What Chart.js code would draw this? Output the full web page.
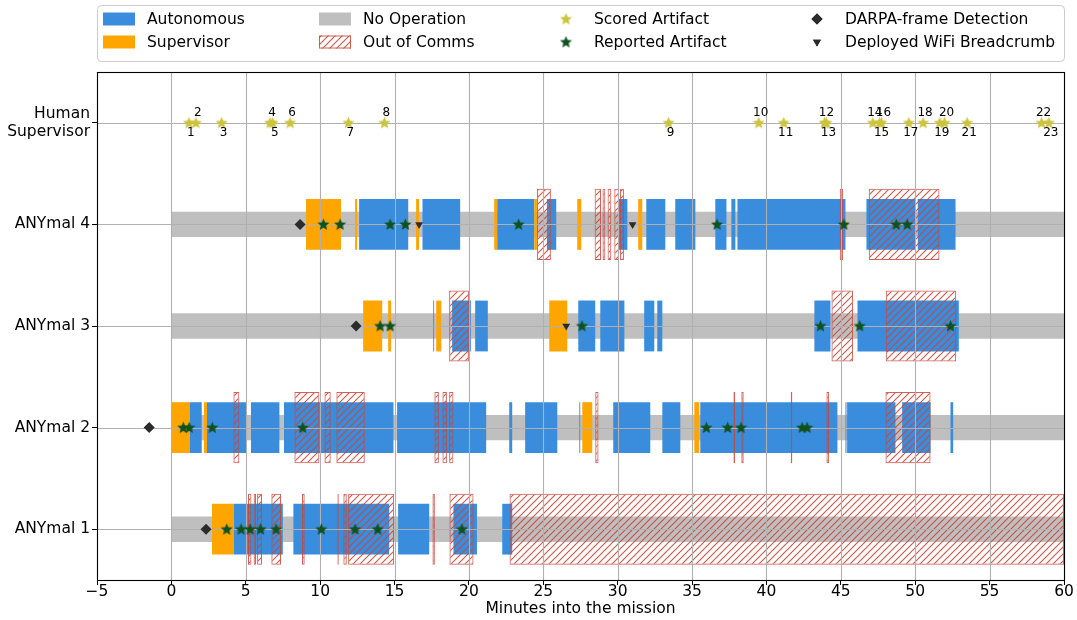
<!DOCTYPE html>
<html><head><meta charset="utf-8">
<script src="https://cdn.jsdelivr.net/npm/chart.js@4/dist/chart.umd.min.js"></script>
<style>html,body{margin:0;padding:0;background:#fff}#wrap{width:1077px;height:620px}</style>
</head><body><div id="wrap"><canvas id="c" width="1077" height="620"></canvas></div>
<script>
// ---------- DATA ----------
const categories = ['Human Supervisor', 'ANYmal 4', 'ANYmal 3', 'ANYmal 2', 'ANYmal 1'];
const robots = ['ANYmal 4', 'ANYmal 3', 'ANYmal 2', 'ANYmal 1'];
const xTicks = [-5, 0, 5, 10, 15, 20, 25, 30, 35, 40, 45, 50, 55, 60];
const noOperation = [0, 60];

const autoA4 = [[12.62,15.92],[16.88,19.41],[21.90,24.39],[25.24,25.87],[30.02,30.65],[31.92,33.20],[33.87,35.22],[36.56,37.31],[37.64,37.91],[38.05,45.31],[46.72,50.00],[50.17,52.71]];
const supA4 = [[9.05,11.40],[12.35,12.48],[16.45,16.65],[21.70,21.90],[24.39,24.57],[27.28,27.55],[31.38,31.65]];
const commsA4 = [[24.57,25.51],[28.45,28.88],[28.98,29.17],[29.32,29.57],[29.77,30.10],[30.15,30.42],[44.93,45.15],[46.88,51.63]];
const repA4 = [10.22,11.34,14.70,15.73,23.34,36.68,45.20,48.72,49.46];
const detA4 = [8.65];
const crumbA4 = [16.65,31.00];

const autoA3 = [[17.60,17.66],[18.87,20.13],[20.42,21.27],[27.35,28.49],[28.83,30.45],[31.78,32.46],[32.66,33.00],[43.22,44.30],[46.12,52.93]];
const supA3 = [[12.89,14.17],[14.57,14.77],[17.80,18.14],[25.40,26.61]];
const commsA3 = [[18.67,20.00],[44.37,45.82],[48.02,52.75]];
const repA3 = [14.03,14.70,27.60,43.63,46.27,52.37];
const detA3 = [12.42];
const crumbA3 = [26.54];

const autoA2 = [[1.25,2.04],[2.39,5.06],[5.35,7.26],[7.57,14.93],[15.17,21.16],[22.71,22.91],[23.78,25.94],[27.42,27.48],[29.70,32.19],[33.00,34.21],[35.55,44.77],[45.31,45.38],[45.42,48.67],[49.12,51.03],[52.37,52.55]];
const supA2 = [[0.02,1.25],[2.19,2.39],[27.62,28.29],[35.15,35.49]];
const commsA2 = [[4.17,4.57],[8.27,9.95],[10.29,10.71],[11.09,13.00],[17.68,17.98],[18.22,18.52],[18.67,18.96],[28.49,28.71],[37.78,37.90],[38.31,38.47],[41.63,41.74],[44.03,44.21],[48.00,51.03]];
const repA2 = [0.80,1.20,2.75,8.83,35.96,37.39,38.29,42.40,42.73];
const detA2 = [-1.49];
const crumbA2 = [];

const autoA1 = [[4.21,7.49],[8.20,14.64],[15.24,17.33],[18.96,20.54],[22.24,22.91]];
const supA1 = [[2.73,4.21]];
const commsA1 = [[5.15,5.38],[5.53,5.69],[5.76,6.09],[6.72,7.37],[8.78,8.96],[11.16,11.25],[11.56,11.79],[11.88,14.97],[17.55,17.71],[18.69,20.31],[22.73,60.00]];
const repA1 = [3.72,4.68,5.29,6.00,7.04,10.08,12.35,13.87,19.53];
const detA1 = [2.33];
const crumbA1 = [];

const scoredTimes = [1.18,1.65,3.38,6.63,6.81,7.98,11.90,14.32,33.42,39.48,41.16,43.90,44.03,47.15,47.60,47.73,49.57,50.53,51.65,51.97,53.49,58.49,58.98];
const scoredLabels = ['1','2','3','4','5','6','7','8','9','10','11','12','13','14','15','16','17','18','19','20','21','22','23'];

// ---------- BUILD ----------
const perRobot = {
  'ANYmal 4': {auto: autoA4, sup: supA4, comms: commsA4, rep: repA4, det: detA4, crumb: crumbA4},
  'ANYmal 3': {auto: autoA3, sup: supA3, comms: commsA3, rep: repA3, det: detA3, crumb: crumbA3},
  'ANYmal 2': {auto: autoA2, sup: supA2, comms: commsA2, rep: repA2, det: detA2, crumb: crumbA2},
  'ANYmal 1': {auto: autoA1, sup: supA1, comms: commsA1, rep: repA1, det: detA1, crumb: crumbA1}
};
function intervals(key){ const out=[]; robots.forEach(r=>perRobot[r][key].forEach(iv=>out.push({x:[iv[0],iv[1]], y:r}))); return out; }
function points(key){ const out=[]; robots.forEach(r=>perRobot[r][key].forEach(t=>out.push({x:t, y:r}))); return out; }

const FS = 15.5;
Chart.defaults.font.family = 'DejaVu Sans';
Chart.defaults.font.size = FS;
Chart.defaults.color = '#000';

const canvas = document.getElementById('c');
const ctx = canvas.getContext('2d');

const tile = document.createElement('canvas'); tile.width = 7; tile.height = 7;
(function(){ const g = tile.getContext('2d'); g.strokeStyle = 'rgba(200,70,58,0.9)'; g.lineWidth = 1.1;
  g.beginPath(); g.moveTo(-1,8); g.lineTo(8,-1); g.moveTo(-1,1); g.lineTo(1,-1); g.moveTo(6,8); g.lineTo(8,6); g.stroke(); })();
const hatch = ctx.createPattern(tile, 'repeat');
const HATCH_EDGE = 'rgba(200,70,58,0.85)';

function starCanvas(color, size){
  const c = document.createElement('canvas'); c.width = c.height = size;
  const g = c.getContext('2d'); const cx = size/2, cy = size/2 + 0.3, R = size/2 - 0.2, r = R*0.45;
  g.fillStyle = color; g.beginPath();
  for (let i=0;i<10;i++){ const a = -Math.PI/2 + i*Math.PI/5; const rr = i%2 ? r : R; g.lineTo(cx+rr*Math.cos(a), cy+rr*Math.sin(a)); }
  g.closePath(); g.fill(); return c;
}
const scoredStar = starCanvas('#cbc43c', 13);
const reportedStar = starCanvas('#10521f', 13);

const COL_AUTO = '#3a8ddd', COL_SUP = '#ffa500', COL_NOOP = '#bfbfbf', COL_MARK = '#2b2b2b';

const barCommon = {type:'bar', indexAxis:'y', grouped:false, categoryPercentage:1, borderWidth:0};

const datasets = [
  Object.assign({}, barCommon, {label:'No Operation', data: robots.map(r=>({x:[noOperation[0], noOperation[1]], y:r})), backgroundColor: COL_NOOP, barPercentage:0.25, order:10}),
  Object.assign({}, barCommon, {label:'Autonomous', data: intervals('auto'), backgroundColor: COL_AUTO, barPercentage:0.5, order:9}),
  Object.assign({}, barCommon, {label:'Supervisor', data: intervals('sup'), backgroundColor: COL_SUP, barPercentage:0.5, order:8}),
  Object.assign({}, barCommon, {label:'Out of Comms', data: intervals('comms'), backgroundColor: hatch, borderColor: HATCH_EDGE, borderWidth:1, borderSkipped:false, barPercentage:0.7, order:7}),
  {type:'scatter', label:'Scored Artifact', data: scoredTimes.map(t=>({x:t, y:'Human Supervisor'})), pointStyle: scoredStar, pointRadius:6, backgroundColor:'#cbc43c', borderWidth:0, order:4},
  {type:'scatter', label:'Reported Artifact', data: points('rep'), pointStyle: reportedStar, pointRadius:6, backgroundColor:'#10521f', borderWidth:0, order:3},
  {type:'scatter', label:'DARPA-frame Detection', data: points('det'), pointStyle:'rectRot', pointRadius:5.5, backgroundColor: COL_MARK, borderColor: COL_MARK, borderWidth:0, order:2},
  {type:'scatter', label:'Deployed WiFi Breadcrumb', data: points('crumb'), pointStyle:'triangle', rotation:180, pointRadius:4.5, backgroundColor: COL_MARK, borderColor: COL_MARK, borderWidth:0, order:1}
];

// grid drawn above bars but below markers
let gridDone = false;
function drawGrid(chart){
  const {ctx, chartArea:a, scales:{x, y}} = chart;
  ctx.save(); ctx.strokeStyle = '#b0b0b0'; ctx.lineWidth = 1.1;
  x.ticks.forEach(t=>{ const px = Math.round(x.getPixelForValue(t.value)) + 0.5; ctx.beginPath(); ctx.moveTo(px, a.top); ctx.lineTo(px, a.bottom); ctx.stroke(); });
  y.ticks.forEach((t,i)=>{ const py = Math.round(y.getPixelForTick(i)) + 0.5; ctx.beginPath(); ctx.moveTo(a.left, py); ctx.lineTo(a.right, py); ctx.stroke(); });
  ctx.restore();
}
const overlay = {
  id:'overlay',
  beforeDatasetsDraw(){ gridDone = false; },
  beforeDatasetDraw(chart, args){ if (!gridDone && args.meta.type === 'scatter'){ drawGrid(chart); gridDone = true; } },
  afterDatasetsDraw(chart){
    if (!gridDone) drawGrid(chart);
    const {ctx, chartArea:a} = chart;
    const meta = chart.getDatasetMeta(4);
    ctx.save(); ctx.font = '12px "DejaVu Sans"'; ctx.fillStyle = '#000'; ctx.textAlign = 'center'; ctx.textBaseline = 'middle';
    meta.data.forEach((pt,i)=>{ const above = (i % 2 === 1); ctx.fillText(scoredLabels[i], pt.x + 2, pt.y + (above ? -10 : 10)); });
    ctx.restore();
    ctx.save(); ctx.strokeStyle = '#000'; ctx.lineWidth = 1.1;
    ctx.strokeRect(Math.round(a.left)+0.5, Math.round(a.top)+0.5, Math.round(a.right-a.left), Math.round(a.bottom-a.top));
    ctx.restore();
  },
  afterDraw(chart){
    const {ctx} = chart; const ds = chart.data.datasets;
    ctx.save();
    const bx = 97.5, by = 5.5, bw = 967, bh = 56, rr = 4;
    ctx.fillStyle = 'rgba(255,255,255,0.85)'; ctx.strokeStyle = '#cccccc'; ctx.lineWidth = 1;
    ctx.beginPath(); ctx.roundRect(bx, by, bw, bh, rr); ctx.fill(); ctx.stroke();
    const order = [1,2,0,3,4,5,6,7];
    const colX = [103, 319, 550, 801];
    const rowY = [19, 42];
    ctx.font = FS + 'px "DejaVu Sans"'; ctx.textBaseline = 'middle'; ctx.textAlign = 'left';
    order.forEach((di, k)=>{
      const col = Math.floor(k/2), row = k%2; const hx = colX[col], cy = rowY[row]; const d = ds[di];
      if (d.type === 'bar'){
        ctx.fillStyle = d.backgroundColor; ctx.fillRect(hx, cy-6.5, 32, 13);
        if (d.borderWidth){ ctx.strokeStyle = d.borderColor; ctx.lineWidth = 1; ctx.strokeRect(hx+0.5, cy-6, 31, 12); }
      } else {
        const cx = hx + 16;
        if (d.pointStyle instanceof HTMLCanvasElement){ ctx.drawImage(d.pointStyle, cx - d.pointStyle.width/2, cy - d.pointStyle.height/2); }
        else { Chart.helpers.drawPoint(ctx, {pointStyle:d.pointStyle, rotation:d.rotation||0, radius:d.pointRadius, borderWidth:0}, cx, cy); ctx.fillStyle = d.backgroundColor; ctx.fill(); }
      }
      ctx.fillStyle = '#000'; ctx.fillText(d.label, hx + 44, cy + 0.5);
    });
    ctx.restore();
  }
};

new Chart(ctx, {
  type:'bar',
  data:{labels: categories, datasets},
  options:{
    responsive:false, animation:false, devicePixelRatio:1,
    layout:{padding:{top:72, right:13, left:0, bottom:0}},
    plugins:{legend:{display:false}, tooltip:{enabled:false}, title:{display:false}},
    scales:{
      x:{type:'linear', position:'bottom', min:-5, max:60, offset:false,
         afterBuildTicks: s => { s.ticks = xTicks.map(v=>({value:v})); },
         ticks:{callback: v => v < 0 ? '\u2212' + Math.abs(v) : String(v), color:'#000', font:{size:FS}, padding:-2, maxRotation:0, autoSkip:false},
         grid:{offset:false, drawOnChartArea:false, drawTicks:true, tickLength:5, tickColor:'#000', tickWidth:1},
         border:{display:false},
         title:{display:true, text:'Minutes into the mission', color:'#000', font:{size:FS}, padding:{top:0, bottom:2}},
         afterFit: s => { s.height = 40; }},
      y:{type:'category', offset:true,
         grid:{offset:false, drawOnChartArea:false, drawTicks:true, tickLength:5, tickColor:'#000', tickWidth:1},
         border:{display:false},
         ticks:{color:'#000', font:{size:FS}, padding:2, autoSkip:false,
                callback: function(v){ const l = this.getLabelForValue(v); return l === 'Human Supervisor' ? ['Human','Supervisor'] : l; }},
         afterFit: s => { s.width = 97; }}
    }
  },
  plugins:[overlay]
});
</script></body></html>
